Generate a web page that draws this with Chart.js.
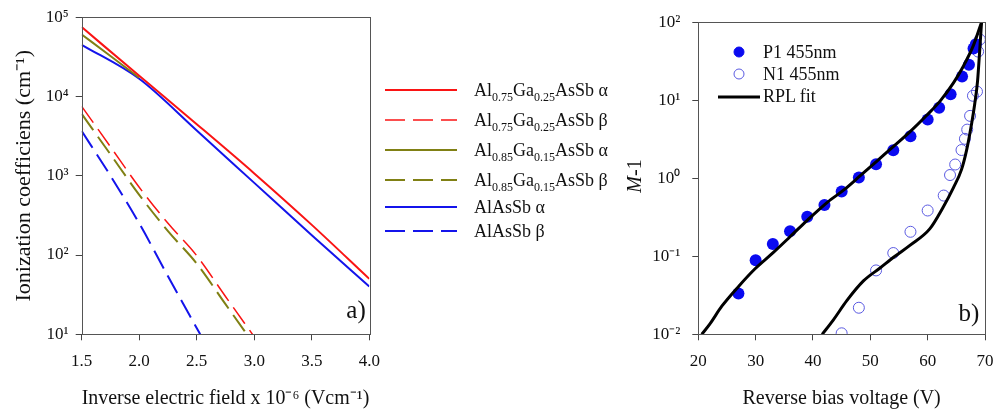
<!DOCTYPE html>
<html>
<head>
<meta charset="utf-8">
<script src="https://cdn.jsdelivr.net/npm/chart.js@4.4.1/dist/chart.umd.min.js"></script>
<style>
  body { margin: 0; background: #fff; font-family: 'Liberation Serif', serif; color: #111; }
  #wrap { position: relative; width: 995px; height: 413px; overflow: hidden; }
  canvas { position: absolute; top: 0; }
  .legend { position: absolute; font-size: 18px; }
  .row { display: flex; align-items: center; white-space: nowrap; }
  .row svg { flex: none; }
  sub { font-size: 12px; vertical-align: -5px; line-height: 0; }
  .tag { position: absolute; font-size: 25px; transform: translate(-50%, -50%); }
  .ytitle { position: absolute; font-size: 20px; white-space: nowrap; transform: translate(-50%, -50%) rotate(-90deg); }
</style>
</head>
<body>
<div id="wrap">
  <canvas id="chartA" width="385" height="413" style="left:0"></canvas>
  <canvas id="chartB" width="420" height="413" style="left:575px"></canvas>
  <div id="legendA" class="legend" style="left:385px; top:75px"></div>
  <div id="legendB" class="legend" style="left:730px; top:41px"></div>
  <div class="tag" style="left:356px; top:310px">a)</div>
  <div class="tag" style="left:969px; top:313px">b)</div>
  <div class="ytitle" style="left:634px; top:176px"><i>M</i>-1</div>
</div>
<script>
// ---- a) ionization coefficients vs inverse electric field ----
const fieldTicks = [1.5, 2.0, 2.5, 3.0, 3.5, 4.0];
const coefTicks = [10, 100, 1000, 10000, 100000];

const alphaField = [1.5, 2.0, 2.5, 3.0, 3.5, 4.0];
const alpha75 = [75000, 18200, 4470, 1070, 240, 50];
const alphaAlAsSb = [44900, 16700, 3720, 813, 178, 40];
const alpha85Field = [1.5, 1.75, 2.0];
const alpha85 = [60500, 32400, 17200];

const betaField = [1.5, 1.75, 2.0, 2.25, 2.5, 2.75, 3.0];
const beta75 = [7500, 2320, 716, 251, 98, 30, 9.3];
const beta85 = [6030, 1860, 575, 200, 78, 24, 7.4];
const betaAlField = [1.5, 1.75, 2.0, 2.25, 2.53];
const betaAlAsSb = [3660, 1000, 251, 54, 10];

// ---- b) multiplication vs reverse bias ----
const biasTicks = [20, 30, 40, 50, 60, 70];
const gainTicks = [0.01, 0.1, 1, 10, 100];

const p1Bias = [27, 30, 33, 36, 39, 42, 45, 48, 51, 54, 57, 60, 62, 64, 66, 67.2, 68, 68.4];
const p1Gain = [0.0334, 0.0887, 0.144, 0.21, 0.32, 0.454, 0.676, 1.02, 1.51, 2.28, 3.46, 5.66, 8.0, 11.9, 20.2, 28.5, 46, 52];
const n1Bias = [45, 48, 51, 54, 57, 60, 62.8, 63.9, 64.8, 65.9, 66.5, 66.9, 67.4, 67.9, 68.6, 68.8, 69.1];
const n1Gain = [0.0103, 0.0219, 0.0659, 0.11, 0.206, 0.386, 0.6, 1.1, 1.5, 2.3, 3.2, 4.2, 6.3, 11.4, 12.9, 42, 60];

const fitPBias = [20.6, 22.0, 24.1, 27.1, 29.9, 33.1, 36, 39, 42.5, 45.5, 48.2, 51.1, 54, 56.9, 59.8, 62.2, 64.5, 66.2, 68, 69.4];
const fitPGain = [0.01, 0.0135, 0.0229, 0.0417, 0.0692, 0.112, 0.178, 0.289, 0.491, 0.72, 1.07, 1.65, 2.54, 3.93, 6.37, 9.82, 16.7, 27.1, 50.8, 100];
const fitNBias = [41.6, 43.5, 45.9, 48.8, 51.7, 54.3, 56.9, 60.4, 62.7, 64.5, 65.9, 66.8, 67.7, 68.2, 68.7, 69.1, 69.4];
const fitNGain = [0.01, 0.0151, 0.027, 0.0483, 0.0708, 0.1, 0.138, 0.226, 0.425, 0.759, 1.29, 2.31, 5.2, 8.9, 17.6, 46.2, 100];

const RED = 'rgb(250,20,20)', OLIVE = 'rgb(128,128,20)', BLUE = 'rgb(20,20,235)';
const FONT = 'Liberation Serif';

const pts = (xs, ys) => xs.map((x, i) => ({ x: x, y: ys[i] }));
const sup = { '-': '\u207B', '0': '\u2070', '1': '\u00B9', '2': '\u00B2', '3': '\u00B3', '4': '\u2074', '5': '\u2075' };
const pow10 = v => '10' + String(Math.round(Math.log10(v))).split('').map(c => sup[c]).join('');

// box around the plot area
const frame = {
  id: 'frame',
  afterDatasetsDraw(chart) {
    const a = chart.chartArea, ctx = chart.ctx;
    ctx.save();
    ctx.strokeStyle = '#555';
    ctx.lineWidth = 1;
    ctx.strokeRect(Math.round(a.left) + 0.5, Math.round(a.top) + 0.5, Math.round(a.right - a.left), Math.round(a.bottom - a.top));
    ctx.restore();
  }
};

function axis(extra) {
  return Object.assign({
    grid: { display: true, drawOnChartArea: false, tickLength: 6, color: '#444' },
    border: { display: false }
  }, extra);
}

// fixed x-axis box, no extra edge padding for the end labels
const fixX = s => { s.height = 78.7; s.paddingLeft = 0; s.paddingRight = 0; };

const dsA = [
  { label: 'Al0.75Ga0.25AsSb \u03B1', data: pts(alphaField, alpha75), borderColor: RED, borderWidth: 2 },
  { label: 'Al0.75Ga0.25AsSb \u03B2', data: pts(betaField, beta75), borderColor: RED, borderWidth: 1.5, borderDash: [20, 8] },
  { label: 'Al0.85Ga0.15AsSb \u03B1', data: pts(alpha85Field, alpha85), borderColor: OLIVE, borderWidth: 2 },
  { label: 'Al0.85Ga0.15AsSb \u03B2', data: pts(betaField, beta85), borderColor: OLIVE, borderWidth: 2, borderDash: [20, 8] },
  { label: 'AlAsSb \u03B1', data: pts(alphaField, alphaAlAsSb), borderColor: BLUE, borderWidth: 2 },
  { label: 'AlAsSb \u03B2', data: pts(betaAlField, betaAlAsSb), borderColor: BLUE, borderWidth: 2, borderDash: [20, 8] }
];

new Chart(document.getElementById('chartA'), {
  type: 'line',
  data: { datasets: dsA },
  options: {
    responsive: false,
    animation: false,
    layout: { padding: { top: 16.7, right: 15.7, left: 0, bottom: 0 } },
    plugins: { legend: { display: false }, tooltip: { enabled: false } },
    elements: { point: { radius: 0 }, line: { cubicInterpolationMode: 'monotone' } },
    scales: {
      x: axis({
        type: 'linear', min: 1.5, max: 4.0,
        afterBuildTicks: s => { s.ticks = fieldTicks.map(v => ({ value: v })); },
        afterFit: fixX,
        ticks: { color: '#111', font: { family: FONT, size: 17 }, padding: 11, maxRotation: 0, callback: v => v.toFixed(1) },
        title: { display: true, text: 'Inverse electric field x 10\u207B\u2076 (Vcm\u207B\u00B9)', color: '#111', font: { family: FONT, size: 20 }, padding: { bottom: 2 } }
      }),
      y: axis({
        type: 'logarithmic', min: 10, max: 100000,
        afterBuildTicks: s => { s.ticks = coefTicks.map(v => ({ value: v })); },
        afterFit: s => { s.width = 81.7; },
        ticks: { color: '#111', font: { family: FONT, size: 17 }, padding: 7, callback: v => pow10(v) },
        title: { display: true, text: 'Ionization coefficiens (cm\u207B\u00B9)', color: '#111', font: { family: FONT, size: 22 }, padding: { top: 11 } }
      })
    }
  },
  plugins: [frame]
});

const fitP = { label: 'RPL fit', data: pts(fitPBias, fitPGain), borderColor: '#000', borderWidth: 3, pointRadius: 0, showLine: true, cubicInterpolationMode: 'monotone' };
const fitN = { label: 'RPL fit', data: pts(fitNBias, fitNGain), borderColor: '#000', borderWidth: 3, pointRadius: 0, showLine: true, cubicInterpolationMode: 'monotone' };
const p1 = { label: 'P1 455nm', data: pts(p1Bias, p1Gain), showLine: false, pointRadius: 6, pointBackgroundColor: 'rgb(10,10,240)', pointBorderColor: 'rgb(10,10,240)', pointBorderWidth: 0 };
const n1 = { label: 'N1 455nm', data: pts(n1Bias, n1Gain), showLine: false, pointRadius: 5.5, pointBackgroundColor: 'rgba(0,0,0,0)', pointBorderColor: 'rgb(90,90,225)', pointBorderWidth: 1 };

new Chart(document.getElementById('chartB'), {
  type: 'scatter',
  data: { datasets: [fitP, fitN, p1, n1] },
  options: {
    responsive: false,
    animation: false,
    layout: { padding: { top: 16.7, right: 10, left: 0, bottom: 0 } },
    plugins: { legend: { display: false }, tooltip: { enabled: false } },
    scales: {
      x: axis({
        type: 'linear', min: 20, max: 70,
        afterBuildTicks: s => { s.ticks = biasTicks.map(v => ({ value: v })); },
        afterFit: fixX,
        ticks: { color: '#111', font: { family: FONT, size: 17 }, padding: 11, maxRotation: 0 },
        title: { display: true, text: 'Reverse bias voltage (V)', color: '#111', font: { family: FONT, size: 20 }, padding: { bottom: 2 } }
      }),
      y: axis({
        type: 'logarithmic', min: 0.01, max: 100,
        afterBuildTicks: s => { s.ticks = gainTicks.map(v => ({ value: v })); },
        afterFit: s => { s.width = 123.3; },
        ticks: { color: '#111', font: { family: FONT, size: 17 }, padding: 12, callback: v => pow10(v) }
      })
    }
  },
  plugins: [frame]
});

// ---- legends (html so the subscripts stay real text) ----
const subs = s => s.replace(/(\d\.\d+)/g, '<sub>$1</sub>');
const legA = document.getElementById('legendA');
dsA.forEach(d => {
  const plain = !/\d\.\d/.test(d.label);
  const dash = d.borderDash ? 'stroke-dasharray="20 8"' : '';
  legA.insertAdjacentHTML('beforeend',
    '<div class="row" style="height:' + (plain ? 24 : 30) + 'px">' +
    '<svg width="72" height="8"><line x1="0" y1="4" x2="72" y2="4" stroke="' + d.borderColor + '" stroke-width="' + d.borderWidth + '" ' + dash + '/></svg>' +
    '<span style="margin-left:17px">' + subs(d.label) + '</span></div>');
});

const legB = document.getElementById('legendB');
[p1, n1, fitP].forEach(d => {
  let mark;
  if (d.showLine) {
    mark = '<svg width="42" height="8" style="margin-left:-12px"><line x1="0" y1="4" x2="42" y2="4" stroke="#000" stroke-width="3"/></svg>';
  } else {
    mark = '<svg width="18" height="14"><circle cx="9" cy="7" r="5" fill="' + d.pointBackgroundColor + '" stroke="' + d.pointBorderColor + '" stroke-width="1"/></svg>';
  }
  legB.insertAdjacentHTML('beforeend',
    '<div class="row" style="height:22.3px">' + mark +
    '<span style="margin-left:' + (d.showLine ? 3 : 15) + 'px">' + d.label + '</span></div>');
});
</script>
</body>
</html>
